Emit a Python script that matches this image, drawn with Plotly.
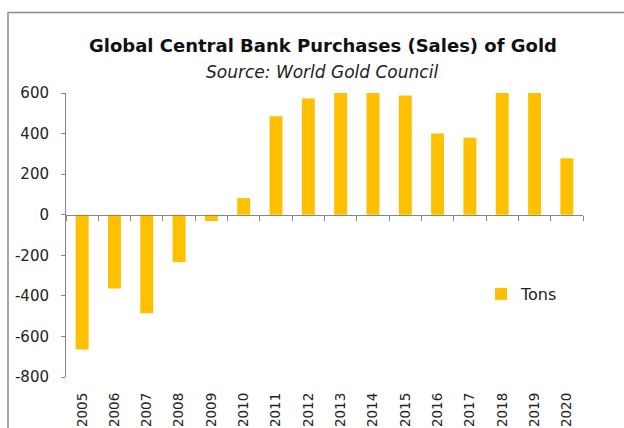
import plotly.graph_objects as go

years = [str(y) for y in range(2005, 2021)]
tons = [-665, -364, -486, -234, -31, 82, 486, 573, 625, 601, 588, 400, 380, 656, 605, 278]
y_ticks = [-800, -600, -400, -200, 0, 200, 400, 600]
y_labels = [str(v) for v in y_ticks]

BAR = "#FFC000"
AX = "#868686"
FONT = "DejaVu Sans"

ml, mr, mt, mb = 66, 41, 93, 51
W, H = 624, 428
pw, ph = W - ml - mr, H - mt - mb

def px_x(p):
    return (p - ml) / pw

def px_y(p):
    return (H - mb - p) / ph

fig = go.Figure()
fig.add_trace(go.Bar(x=years, y=tons, name="Tons", marker_color=BAR,
                     marker_line_width=0, xaxis="x", yaxis="y"))
fig.add_trace(go.Scatter(x=years, y=[None] * len(years), xaxis="x2", yaxis="y",
                         showlegend=False, hoverinfo="skip", mode="markers"))

zero_pos = (0 - y_ticks[0]) / (y_ticks[-1] - y_ticks[0])

fig.update_layout(
    width=W, height=H,
    margin=dict(l=ml, r=mr, t=mt, b=mb, autoexpand=False),
    paper_bgcolor="white", plot_bgcolor="white",
    font=dict(family=FONT, size=14, color="#222"),
    bargap=0.6,
    xaxis=dict(type="category", categoryorder="array", categoryarray=years,
               range=[-0.5, len(years) - 0.5], tickangle=-90, ticks="",
               showline=False, showgrid=False, automargin=False,
               tickfont=dict(size=13.5, family=FONT, color="#222"), ticklabelstandoff=12),
    xaxis2=dict(type="category", categoryorder="array", categoryarray=years,
                overlaying="x", anchor="free", position=zero_pos, side="bottom",
                range=[-0.5, len(years) - 0.5], showticklabels=False,
                showline=True, linecolor=AX, linewidth=1,
                ticks="outside", tickson="boundaries", ticklen=5, tickcolor=AX,
                showgrid=False),
    yaxis=dict(range=[y_ticks[0], y_ticks[-1]], tickvals=y_ticks, ticktext=y_labels,
               showgrid=False, zeroline=False, showline=True, linecolor=AX, linewidth=1,
               ticks="outside", ticklen=4, tickcolor=AX, automargin=False,
               tickfont=dict(size=15, family=FONT, color="#222"), ticklabelstandoff=9),
    showlegend=True,
    legend=dict(x=px_x(481), y=px_y(294), xanchor="left", yanchor="middle",
                bgcolor="rgba(0,0,0,0)", font=dict(size=16, family=FONT, color="#222"),
                itemwidth=30),
    shapes=[dict(type="rect", xref="paper", yref="paper",
                 x0=px_x(8), x1=px_x(640), y0=px_y(440), y1=px_y(12.5),
                 line=dict(color="#8c8c8c", width=1.5), fillcolor="rgba(0,0,0,0)",
                 layer="below")],
    annotations=[
        dict(text="<b>Global Central Bank Purchases (Sales) of Gold</b>", xref="paper",
             yref="paper", x=px_x(323), y=px_y(45), xanchor="center", yanchor="middle",
             showarrow=False, font=dict(size=18, family=FONT, color="#111")),
        dict(text="<i>Source: World Gold Council</i>", xref="paper", yref="paper",
             x=px_x(322), y=px_y(72), xanchor="center", yanchor="middle",
             showarrow=False, font=dict(size=17, family=FONT, color="#222")),
    ],
)

fig.write_html("out.html")
